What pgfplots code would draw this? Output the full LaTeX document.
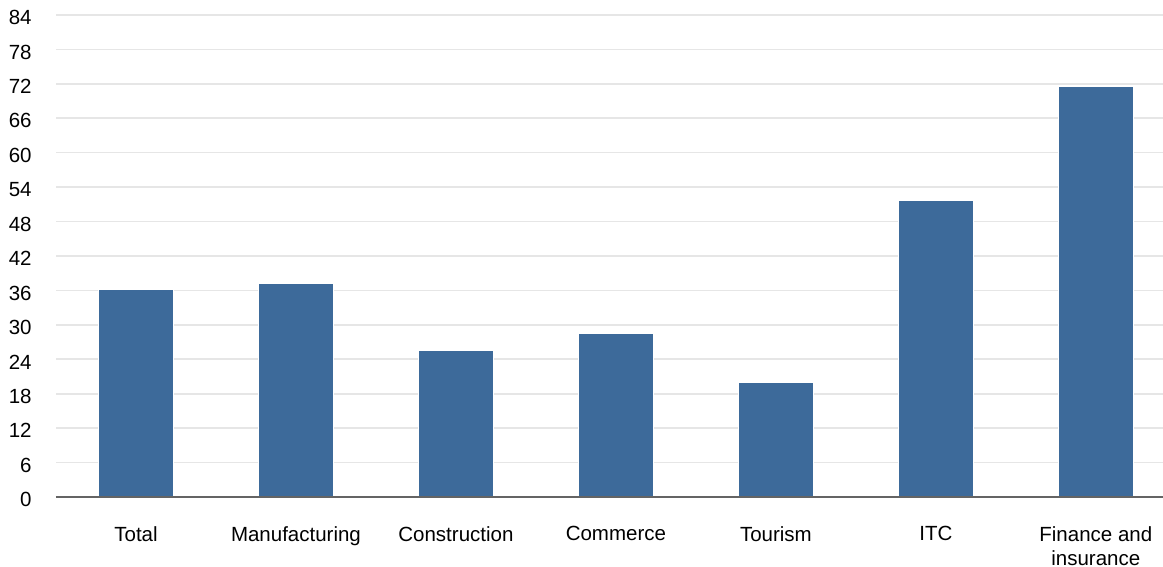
\documentclass[border=0pt]{standalone}
\usepackage{pgfplots}
\pgfplotsset{compat=1.18}
\usepackage{fontspec}
\setmainfont{Liberation Sans}
\definecolor{barblue}{RGB}{61,106,154}
\definecolor{gridgray}{RGB}{230,230,230}
\definecolor{axisgray}{RGB}{100,100,100}
\begin{document}
\begin{tikzpicture}
\begin{axis}[
  scale only axis, width=553.5pt, height=248.5pt,
  xmin=-0.5, xmax=6.42, ymin=0, ymax=86.6,
  axis line style={draw=none},
  ytick={0,6,...,84},
  ymajorgrids, grid style={color=gridgray, line width=0.8pt},
  major tick length=0pt,
  xtick=data,
  xticklabels={Total,Manufacturing,Construction,Commerce,Tourism,ITC,{Finance and\\insurance}},
  tick label style={font=\fontsize{10.25}{12}\selectfont, text=black},
  xticklabel style={anchor=north, inner sep=0pt, yshift=-14.5pt, align=center},
  yticklabel style={anchor=east, inner sep=0pt, xshift=-12pt, yshift=-1.3pt},
  /pgf/number format/assume math mode=true,
  ybar, bar width=0.47,
]
\addplot[fill=barblue, draw=white, line width=0.5pt] coordinates {
  (0,36.2) (1,37.2) (2,25.5) (3,28.5) (4,19.9) (5,51.7) (6,71.5)
};
\draw[color=axisgray, line width=1pt] (rel axis cs:0,0) -- (rel axis cs:1,0);
\end{axis}
\pgfresetboundingbox
\path[use as bounding box] ([xshift=-28pt,yshift=-34.5pt]current axis.south west) rectangle (current axis.north east);
\end{tikzpicture}
\end{document}
